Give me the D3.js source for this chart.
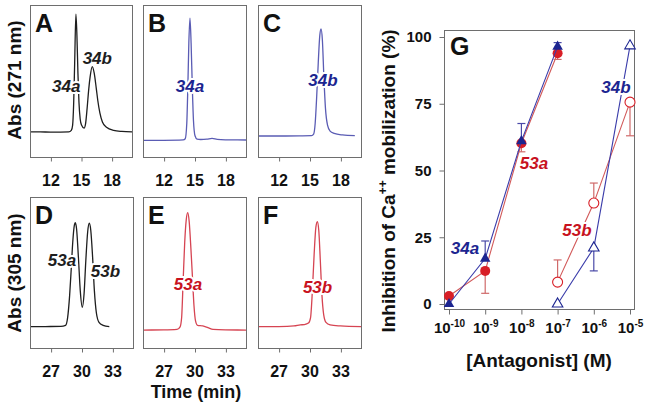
<!DOCTYPE html>
<html><head><meta charset="utf-8">
<script src="https://cdn.jsdelivr.net/npm/d3@7"></script>
<style>
body{margin:0;background:#fff}
svg{display:block}
text{font-family:"Liberation Sans",Arial,Helvetica,sans-serif;font-weight:bold}
</style>
</head><body>
<svg id="c" width="650" height="408"></svg>
<script>
// ---------- chromatogram traces: [time (min), relative absorbance (% of panel height)] ----------
const traceA = [[10,16.5],[11,16.5],[12,16.4],[13,16.4],[13.8,16.5],[14.05,17.5],[14.18,21],[14.28,35],[14.38,62],[14.5,94],[14.6,80],[14.7,55],[14.8,36],[14.92,25],[15.05,21],[15.3,19],[15.45,22],[15.6,32],[15.75,44],[15.9,53],[16.1,59.5],[16.3,55],[16.5,45],[16.65,37],[16.85,29],[17.1,23],[17.5,19.5],[18.2,17.5],[19,16.8],[20,16.5]];
const traceB = [[10,11],[12,11],[13.5,11.1],[13.9,11.2],[14.1,12],[14.25,22],[14.35,45],[14.45,75],[14.56,91.4],[14.67,75],[14.78,48],[14.9,24],[15.05,14],[15.25,11.8],[15.6,11.5],[16.2,11.7],[16.7,12.2],[17.2,11.6],[18,11.3],[20,11.2]];
const traceC = [[10,13.8],[12,13.8],[14,13.9],[15.2,14],[15.4,15],[15.55,22],[15.7,40],[15.85,62],[16.0,80],[16.12,84.2],[16.25,77],[16.4,52],[16.55,32],[16.75,21],[17.0,17],[17.4,15.5],[18.2,14.5],[19.4,14]];
const traceD = [[25,14.1],[26.5,14.2],[28,14.3],[28.45,15],[28.65,20],[28.85,35],[29.0,52],[29.15,70],[29.3,81],[29.4,83],[29.52,79],[29.7,60],[29.88,38],[30.08,27],[30.25,36],[30.42,58],[30.6,77],[30.76,82.6],[30.9,78],[31.08,60],[31.25,38],[31.45,23],[31.7,17],[32.1,15],[32.7,14.1]];
const traceE = [[25,11.9],[27,12],[28.3,12.3],[28.6,14],[28.75,20],[28.9,45],[29.05,70],[29.2,85],[29.34,89.6],[29.48,84],[29.65,66],[29.8,47],[29.95,28],[30.1,18],[30.3,15],[30.8,14.6],[31.3,13.5],[31.8,12.3],[33,12],[35,11.9]];
const traceF = [[25,14.1],[27,14.2],[28.5,14.6],[29.1,15.3],[29.5,15.5],[29.9,16.5],[30.1,20],[30.28,38],[30.45,62],[30.62,80],[30.76,83.6],[30.9,78],[31.05,58],[31.2,36],[31.38,22],[31.6,17],[32,15.3],[33,14.6],[35,14.1]];
const ticksTop = [12,15,18];
const ticksBottom = [27,30,33];

// ---------- panel G: concentration (M), inhibition (%), signed error (+ up / - down) ----------
const conc34a = [1e-10,1e-9,1e-8,1e-7];
const mean34a = [0,17,61,96.4];
const err34a  = [0,6.6,6.6,1.5];
const conc53a = [1e-10,1e-9,1e-8,1e-7];
const mean53a = [3,12.4,60.2,93.9];
const err53a  = [0,-8.4,-3.2,-2.3];
const conc34b = [1e-7,1e-6,1e-5];
const mean34b = [0,21,96.7];
const err34b  = [0,-8.6,0];
const conc53b = [1e-7,1e-6,1e-5];
const mean53b = [8.2,37.8,75.6];
const err53b  = [8.3,7.5,-12.6];
const gTicksX = [1e-10,1e-9,1e-8,1e-7,1e-6,1e-5];
const gTicksY = [0,25,50,75,100];

const svg = d3.select("#c");
svg.append("rect").attr("width",650).attr("height",408).attr("fill","#fff");
const FR = "#6e6e6e";
const BLUE_TR = "#5a5cb4", RED_TR = "#d64452", BLACK = "#1e1e1e";
const NAVY = "#1c2590", DRED = "#c8121e";

function halo(sel){ return sel.attr("stroke","#fff").attr("stroke-width",4).attr("paint-order","stroke").attr("stroke-linejoin","round"); }

const panels = [
  {d:traceA, x0:30, x1:132, y0:5, y1:157, dom:[10,20], ticks:ticksTop, col:BLACK, L:"A", lab:[["34a",13.55,42.8,BLACK],["34b",16.6,61.2,BLACK]]},
  {d:traceB, x0:143,x1:246, y0:5, y1:157, dom:[10,20], ticks:ticksTop, col:BLUE_TR, L:"B", lab:[["34a",14.56,42.8,NAVY]]},
  {d:traceC, x0:258,x1:361, y0:5, y1:157, dom:[10,20], ticks:ticksTop, col:BLUE_TR, L:"C", lab:[["34b",16.3,46.7,NAVY]]},
  {d:traceD, x0:30, x1:133, y0:197,y1:348, dom:[25,35], ticks:ticksBottom, col:BLACK, L:"D", lab:[["53a",28.1,54.3,BLACK],["53b",32.33,47,BLACK]]},
  {d:traceE, x0:143,x1:246, y0:197,y1:348, dom:[25,35], ticks:ticksBottom, col:RED_TR, L:"E", lab:[["53a",29.37,38.4,DRED]]},
  {d:traceF, x0:258,x1:361, y0:197,y1:348, dom:[25,35], ticks:ticksBottom, col:RED_TR, L:"F", lab:[["53b",30.78,36.4,DRED]]}
];

panels.forEach(p=>{
  const x = d3.scaleLinear().domain(p.dom).range([p.x0,p.x1]);
  const y = d3.scaleLinear().domain([0,100]).range([p.y1,p.y0]);
  const g = svg.append("g");
  const line = d3.line().x(d=>x(d[0])).y(d=>y(d[1])).curve(d3.curveMonotoneX);
  g.append("path").datum(p.d).attr("d",line).attr("fill","none").attr("stroke",p.col).attr("stroke-width",1.3);
  p.lab.forEach(l=>{
    halo(g.append("text").attr("x",x(l[1])).attr("y",y(l[2])).attr("text-anchor","middle")
      .attr("font-size",17).attr("font-style","italic").attr("fill",l[3]).text(l[0]));
  });
  g.append("rect").attr("x",p.x0+0.5).attr("y",p.y0+0.5).attr("width",p.x1-p.x0).attr("height",p.y1-p.y0)
    .attr("fill","none").attr("stroke",FR).attr("stroke-width",1);
  const ax = g.append("g").attr("transform",`translate(0,${p.y1+0.5})`)
    .call(d3.axisBottom(x).tickValues(p.ticks).tickSize(4).tickPadding(13).tickFormat(d3.format("d")));
  ax.select(".domain").remove();
  ax.selectAll(".tick line").attr("stroke",FR).attr("transform","translate(0.5,0)");
  ax.selectAll(".tick text").attr("font-size",16).attr("fill","#111").attr("font-family",null);
  g.append("text").attr("x",p.x0+5).attr("y",p.y0+27).attr("font-size",25).attr("fill","#111").text(p.L);
});

// axis titles for chromatograms
svg.append("text").attr("transform","translate(21,80) rotate(-90)").attr("text-anchor","middle").attr("font-size",19).attr("fill","#111").text("Abs (271 nm)");
svg.append("text").attr("transform","translate(21,273) rotate(-90)").attr("text-anchor","middle").attr("font-size",19).attr("fill","#111").text("Abs (305 nm)");
svg.append("text").attr("x",196).attr("y",398).attr("text-anchor","middle").attr("font-size",18).attr("fill","#111").text("Time (min)");

// ---------- panel G ----------
const G = {x0:444,x1:634,y0:30,y1:309};
const gx = d3.scaleLog().domain([1e-10,1e-5]).range([449,630]);
const gy = d3.scaleLinear().domain([0,100]).range([304,37]);
const gg = svg.append("g");

const yAx = gg.append("g").attr("transform",`translate(${G.x0+0.5},0)`)
  .call(d3.axisLeft(gy).tickValues(gTicksY).tickSize(5).tickPadding(8));
yAx.select(".domain").remove();
yAx.selectAll(".tick line").attr("stroke",FR);
yAx.selectAll(".tick text").attr("font-size",15).attr("fill","#111").attr("font-family",null);

const xAx = gg.append("g").attr("transform",`translate(0,${G.y1+0.5})`)
  .call(d3.axisBottom(gx).tickValues(gTicksX).tickSize(5).tickPadding(10).tickFormat(()=>""));
xAx.select(".domain").remove();
xAx.selectAll(".tick line").attr("stroke",FR);
xAx.selectAll(".tick").each(function(d){
  const t = d3.select(this).select("text").attr("font-size",15).attr("fill","#111").attr("font-family",null).attr("y",null).attr("dy",null);
  t.attr("y",23);
  t.append("tspan").text("10");
  t.append("tspan").attr("font-size",10).attr("dy",-6).text(String(Math.round(Math.log10(d))));
});

gg.append("rect").attr("x",G.x0+0.5).attr("y",G.y0+0.5).attr("width",G.x1-G.x0).attr("height",G.y1-G.y0)
  .attr("fill","none").attr("stroke",FR).attr("stroke-width",1);

const BL_LINE="#3a3caa", RD_LINE="#d25a5a", BL_ERR="#4a4aa8", RD_ERR="#d06a6a", RD_FILL="#d81e26";

function series(conc, mean, err, lineCol, errCol, draw){
  const pts = conc.map((c,i)=>({x:gx(c), y:gy(mean[i]), e:err[i], m:mean[i]}));
  const g = gg.append("g");
  g.append("path").datum(pts).attr("d",d3.line().x(d=>d.x).y(d=>d.y)).attr("fill","none").attr("stroke",lineCol).attr("stroke-width",1.1);
  pts.filter(p=>p.e!==0).forEach(p=>{
    const ye = gy(p.m+p.e);
    g.append("line").attr("x1",p.x).attr("x2",p.x).attr("y1",p.y).attr("y2",ye).attr("stroke",errCol).attr("stroke-width",1.2);
    g.append("line").attr("x1",p.x-4).attr("x2",p.x+4).attr("y1",ye).attr("y2",ye).attr("stroke",errCol).attr("stroke-width",1.2);
  });
  draw(g, pts);
}
const tri = d3.symbol().type(d3.symbolTriangle).size(48);

series(conc53b, mean53b, err53b, RD_LINE, RD_ERR, (g,pts)=>{
  g.selectAll("circle").data(pts).join("circle").attr("cx",d=>d.x).attr("cy",d=>d.y).attr("r",5)
    .attr("fill","#fff").attr("stroke",RD_FILL).attr("stroke-width",1.1);
});
series(conc34b, mean34b, err34b, BL_LINE, BL_ERR, (g,pts)=>{
  g.selectAll("path.m").data(pts).join("path").attr("class","m").attr("d",tri)
    .attr("transform",d=>`translate(${d.x},${d.y})`).attr("fill","#fff").attr("stroke",NAVY).attr("stroke-width",1.1);
});
series(conc53a, mean53a, err53a, RD_LINE, RD_ERR, (g,pts)=>{
  g.selectAll("circle").data(pts).join("circle").attr("cx",d=>d.x).attr("cy",d=>d.y).attr("r",5).attr("fill",RD_FILL);
});
series(conc34a, mean34a, err34a, BL_LINE, BL_ERR, (g,pts)=>{
  g.selectAll("path.m").data(pts).join("path").attr("class","m").attr("d",tri)
    .attr("transform",d=>`translate(${d.x},${d.y})`).attr("fill",NAVY);
});

// annotations in G
[["34a",465,254,NAVY],["53a",534,169,DRED],["34b",616,93,NAVY],["53b",577,236,DRED]].forEach(l=>{
  halo(gg.append("text").attr("x",l[1]).attr("y",l[2]).attr("text-anchor","middle").attr("font-size",17)
    .attr("font-style","italic").attr("fill",l[3]).text(l[0]));
});
gg.append("text").attr("x",450).attr("y",55).attr("font-size",25).attr("fill","#111").text("G");

// G axis titles
const yt = svg.append("text").attr("transform","translate(395,181) rotate(-90)").attr("text-anchor","middle").attr("font-size",19).attr("fill","#111");
yt.append("tspan").text("Inhibition of Ca");
yt.append("tspan").attr("font-size",12).attr("dy",-8).text("++");
yt.append("tspan").attr("dy",8).text(" mobilization (%)");
svg.append("text").attr("x",539).attr("y",367).attr("text-anchor","middle").attr("font-size",19).attr("fill","#111").text("[Antagonist] (M)");
</script>
</body></html>
